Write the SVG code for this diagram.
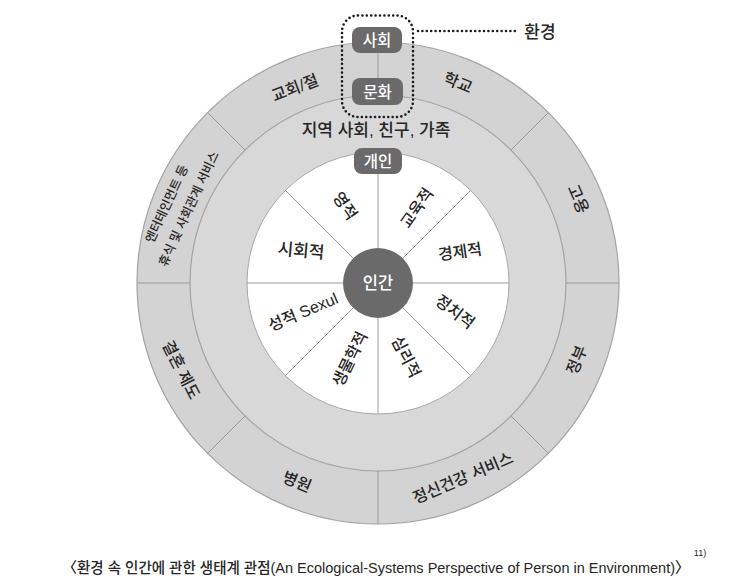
<svg xmlns="http://www.w3.org/2000/svg" width="747" height="585" viewBox="0 0 747 585">
<style>
.t{font-family:"Liberation Sans","Noto Sans CJK KR",sans-serif;fill:#262626;text-anchor:middle;dominant-baseline:central;font-weight:500}
.w{fill:#ffffff}
.lbl{font-size:16px}
.sm{font-size:12.5px}
.box{fill:#6a6a6a}
.div{stroke:#9a9a9a;stroke-width:1;fill:none}
.ring{stroke:#a3a3a3;stroke-width:1.2}
.dot{fill:none;stroke:#1a1a1a;stroke-width:2.6;stroke-dasharray:0 4.4;stroke-linecap:round}
</style>
<rect width="747" height="585" fill="#ffffff"/>
<g id="rings">
<circle cx="378" cy="283" r="241" fill="#d3d3d3" class="ring"/>
<circle cx="378" cy="283" r="188" fill="#d8d8d8" class="ring"/>
<circle cx="378" cy="283" r="131" fill="#ffffff" stroke="#a8a8a8" stroke-width="1"/>
</g>
<g id="connectors">
<line class="div" x1="413" y1="283" x2="509" y2="283"/>
<line class="div" x1="402.7" y1="307.7" x2="470.6" y2="375.6"/>
<line class="div" x1="378" y1="318" x2="378" y2="414"/>
<line class="div" x1="353.3" y1="307.7" x2="285.4" y2="375.6"/>
<line class="div" x1="343" y1="283" x2="247" y2="283"/>
<line class="div" x1="353.3" y1="258.3" x2="285.4" y2="190.4"/>
<line class="div" x1="378" y1="248" x2="378" y2="174"/>
<line class="div" x1="402.7" y1="258.3" x2="470.6" y2="190.4"/>
<line class="div" x1="566" y1="283" x2="619" y2="283"/>
<line class="div" x1="510.9" y1="415.9" x2="548.4" y2="453.4"/>
<line class="div" x1="378" y1="471" x2="378" y2="524"/>
<line class="div" x1="245.1" y1="415.9" x2="207.6" y2="453.4"/>
<line class="div" x1="190" y1="283" x2="137" y2="283"/>
<line class="div" x1="245.1" y1="150.1" x2="207.6" y2="112.6"/>
<line class="div" x1="378" y1="53" x2="378" y2="78"/>
<line class="div" x1="510.9" y1="150.1" x2="548.4" y2="112.6"/>
<rect class="dot" x="342" y="15.5" width="71" height="101.5" rx="16"/>
<line class="dot" x1="418" y1="31" x2="517" y2="31"/>
</g>
<g id="env"><text class="t" x="540" y="32" font-size="17">환경</text></g>
<g id="society"><rect class="box" x="352" y="27" width="50" height="26" rx="8"/><text class="t w" x="377" y="40.5" font-size="15.5">사회</text></g>
<g id="culture"><rect class="box" x="352" y="78" width="51" height="27" rx="8"/><text class="t w" x="377.5" y="92" font-size="15.5">문화</text></g>
<g id="community"><text class="t" x="376" y="130" font-size="17">지역 사회, 친구, 가족</text></g>
<g id="individual"><rect class="box" x="354" y="148" width="48" height="26" rx="8"/><text class="t w" x="378" y="161.5" font-size="15.5">개인</text></g>
<g id="human"><circle cx="378" cy="283" r="35" class="box"/><text class="t w" x="378" y="283" font-size="16.5">인간</text></g>
<g id="inner-labels">
<text class="t lbl" transform="translate(345,206) rotate(55)">영적</text>
<text class="t lbl" transform="translate(417,208) rotate(-55)">교육적</text>
<text class="t lbl" transform="translate(460,252) rotate(-8)">경제적</text>
<text class="t lbl" transform="translate(455,312) rotate(37)">정치적</text>
<text class="t lbl" transform="translate(406,357) rotate(63)">심리적</text>
<text class="t lbl" transform="translate(350,359) rotate(-64)">생물학적</text>
<text class="t lbl" transform="translate(303,312) rotate(-23)">성적 Sexul</text>
<text class="t" font-size="17" transform="translate(301,251) rotate(5)">시회적</text>
</g>
<g id="outer-labels">
<text class="t lbl" transform="translate(295,88) rotate(-21)">교회/절</text>
<text class="t lbl" transform="translate(458,83) rotate(22)">학교</text>
<text class="t lbl" transform="translate(578,199) rotate(67)">고용</text>
<text class="t lbl" transform="translate(577,360) rotate(-68)">정부</text>
<text class="t lbl" transform="translate(463,478) rotate(-23)">정신건강 서비스</text>
<text class="t lbl" transform="translate(297,482) rotate(22)">병원</text>
<text class="t lbl" transform="translate(181,370) rotate(63)">결혼 제도</text>
<text class="t sm" transform="translate(167,204) rotate(-65)">엔터테인먼트 등</text>
<text class="t sm" transform="translate(189,209) rotate(-65)">휴식 및 사회관계 서비스</text>
</g>
<g id="caption">
<text class="t" x="376" y="567" font-size="15" textLength="627" lengthAdjust="spacingAndGlyphs">〈환경 속 인간에 관한 생태계 관점(An Ecological-Systems Perspective of Person in Environment)〉</text>
<text class="t" x="700" y="553" font-size="9">11)</text>
</g>
</svg>
